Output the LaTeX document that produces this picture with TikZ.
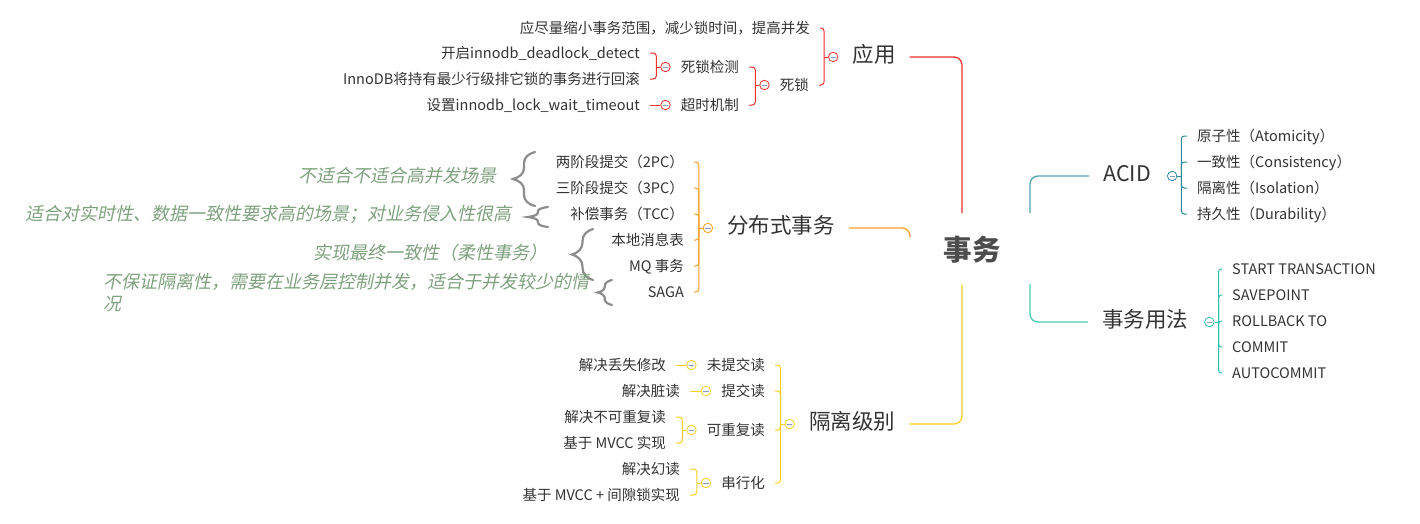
\documentclass[tikz,border=0pt]{standalone}
\usepackage{fontspec}
\setmainfont{Noto Sans CJK SC}
\newfontfamily\notefont[FakeSlant=0.2]{Noto Sans CJK SC}
\usetikzlibrary{positioning,calc,decorations.pathreplacing}
\definecolor{ink}{HTML}{333333}
\definecolor{rootink}{HTML}{4D4D4D}
\definecolor{appred}{HTML}{F0302A}
\definecolor{distorange}{HTML}{F7A024}
\definecolor{isoyellow}{HTML}{F5D020}
\definecolor{acidteal}{HTML}{2B8A9E}
\definecolor{useteal}{HTML}{2CC0B0}
\definecolor{knobmark}{HTML}{8A9BC0}
\definecolor{noteink}{HTML}{7EA07E}
\definecolor{bracegray}{HTML}{8C8C8C}
\tikzset{
  every node/.style={text=ink},
  leaf/.style={font=\fontsize{14.5}{17}\selectfont,inner xsep=10pt,inner ysep=1pt,text height=1.05em,text depth=0em},
  branch/.style={font=\fontsize{21.5}{24}\selectfont,inner xsep=14pt,inner ysep=2pt,text height=1.05em,text depth=0em},
  rootnode/.style={font=\fontsize{28.5}{32}\selectfont\bfseries,text=rootink,inner sep=0pt},
  knob/.style={circle,draw=#1,fill=white,line width=0.8pt,minimum size=9.5pt,inner sep=0pt,
    path picture={\draw[draw=knobmark,line width=0.9pt] ([xshift=-2.6pt]path picture bounding box.center) -- ([xshift=2.6pt]path picture bounding box.center);}},
  trunk/.style={draw=#1,line width=1.3pt,rounded corners=8pt},
  twig/.style={draw=#1,line width=1pt,rounded corners=3pt},
  note/.style={font=\notefont\fontsize{18}{22}\selectfont,text=noteink,inner sep=0pt,align=left},
  curly/.style 2 args={draw=bracegray,line width=2.2pt,line cap=round,decorate,
    decoration={brace,amplitude=#1,transform={yscale=#2}}},
}

\begin{document}
\begin{tikzpicture}[x=1pt,y=-1pt]
  \useasboundingbox (0,0) rectangle (1420,523);
  % centre and main branches
  \node[rootnode] (root) at (972,250) {事务};
  \node[branch] (app) at (874,57) {应用};
  \node[branch] (dist) at (781,228) {分布式事务};
  \node[branch] (iso) at (852,424) {隔离级别};
  \node[branch] (acid) at (1127,176) {ACID};
  \node[branch] (usage) at (1145,322) {事务用法};
  \node[knob=appred,left=0pt of app] (appK) {};
  \node[knob=distorange,left=0pt of dist] (distK) {};
  \node[knob=isoyellow,left=0pt of iso] (isoK) {};
  \node[knob=acidteal,right=2pt of acid] (acidK) {};
  \node[knob=useteal,right=2pt of usage] (usageK) {};
  \coordinate (rootTL) at ($(root)+(-10,-37)$);
  \coordinate (rootBL) at ($(root)+(-10,35)$);
  \coordinate (rootTR) at ($(root)+(58,-37)$);
  \coordinate (rootBR) at ($(root)+(58,34)$);
  \coordinate (rootDL) at ($(root)+(-62,-13)$);
  \draw[trunk=appred] (rootTL) |- (app.east);
  \draw[trunk=distorange] (dist.east) -| (rootDL);
  \draw[trunk=isoyellow] (rootBL) |- (iso.east);
  \draw[trunk=acidteal!80] (rootTR) |- (acid.west);
  \draw[trunk=useteal!85] (rootBR) |- (usage.west);

  % 应用
  \node[leaf,anchor=east] (app1) at (820,28) {应尽量缩小事务范围，减少锁时间，提高并发};
  \node[leaf,anchor=east] (lock) at (819,85) {死锁};
  \node[knob=appred,left=0pt of lock] (lockK) {};
  \node[leaf,anchor=east] (detect) at (749,67) {死锁检测};
  \node[leaf,anchor=east] (timeout) at (749,105) {超时机制};
  \node[knob=appred,left=0pt of detect] (detectK) {};
  \node[knob=appred,left=0pt of timeout] (timeoutK) {};
  \node[leaf,anchor=east] (detect1) at (650,53) {开启innodb\_deadlock\_detect};
  \node[leaf,anchor=east] (detect2) at (650,79) {InnoDB将持有最少行级排它锁的事务进行回滚};
  \node[leaf,anchor=east] (timeout1) at (650,105) {设置innodb\_lock\_wait\_timeout};
  \draw[twig=appred] (appK.west) -- ++(-4,0) coordinate (appJ);
  \foreach \n in {app1,lock} \draw[twig=appred] (appJ) |- (\n.east);
  \draw[twig=appred] (lockK.west) -- ++(-4,0) coordinate (lockJ);
  \foreach \n in {detect,timeout} \draw[twig=appred] (lockJ) |- (\n.east);
  \draw[twig=appred] (detectK.west) -- ++(-4,0) coordinate (detectJ);
  \foreach \n in {detect1,detect2} \draw[twig=appred] (detectJ) |- (\n.east);
  \draw[twig=appred] (timeoutK.west) -- (timeout1.east);

  % 分布式事务
  \node[leaf,anchor=east] (tpc) at (694,162) {两阶段提交（2PC）};
  \node[leaf,anchor=east] (thpc) at (694,188) {三阶段提交（3PC）};
  \node[leaf,anchor=east] (tcc) at (694,214) {补偿事务（TCC）};
  \node[leaf,anchor=east] (localmsg) at (694,240) {本地消息表};
  \node[leaf,anchor=east] (mq) at (694,266) {MQ 事务};
  \node[leaf,anchor=east] (saga) at (694,292) {SAGA};
  \draw[twig=distorange] (distK.west) -- ++(-4,0) coordinate (distJ);
  \foreach \n in {tpc,thpc,tcc,localmsg,mq,saga} \draw[twig=distorange] (distJ) |- (\n.east);
  \draw[curly={11}{2}] (535,206) -- (535,152);
  \draw[curly={4.5}{4.5}] (548,227) -- (548,207);
  \draw[curly={12}{1.75}] (593,280) -- (593,229);
  \draw[curly={6}{2.4}] (612,305) -- (612,280);
  \node[note,anchor=east] (note1) at (497,176) {不适合不适合高并发场景};
  \node[note,anchor=east] (note2) at (512,214) {适合对实时性、数据一致性要求高的场景；对业务侵入性很高};
  \node[note,anchor=east] (note3) at (548,253) {实现最终一致性（柔性事务）};
  \node[note,anchor=west] (note4) at (103,293) {不保证隔离性，需要在业务层控制并发，适合于并发较少的情\\况};

  % 隔离级别
  \node[leaf,anchor=east] (ru) at (775,365) {未提交读};
  \node[leaf,anchor=east] (rc) at (775,391) {提交读};
  \node[leaf,anchor=east] (rr) at (775,430) {可重复读};
  \node[leaf,anchor=east] (ser) at (775,483) {串行化};
  \draw[twig=isoyellow] (isoK.west) -- ++(-4,0) coordinate (isoJ);
  \foreach \n in {ru,rc,rr,ser} \draw[twig=isoyellow] (isoJ) |- (\n.east);
  \foreach \n in {ru,rc,rr,ser} \node[knob=isoyellow,left=0pt of \n] (\n K) {};
  \node[leaf,anchor=east] (ru1) at (676,365) {解决丢失修改};
  \node[leaf,anchor=east] (rc1) at (690,391) {解决脏读};
  \node[leaf,anchor=east] (rr1) at (676,417) {解决不可重复读};
  \node[leaf,anchor=east] (rr2) at (676,443) {基于 MVCC 实现};
  \node[leaf,anchor=east] (ser1) at (690,469) {解决幻读};
  \node[leaf,anchor=east] (ser2) at (690,495) {基于 MVCC + 间隙锁实现};
  \draw[twig=isoyellow] (ruK.west) -- (ru1.east);
  \draw[twig=isoyellow] (rcK.west) -- (rc1.east);
  \draw[twig=isoyellow] (rrK.west) -- ++(-4,0) coordinate (rrJ);
  \foreach \n in {rr1,rr2} \draw[twig=isoyellow] (rrJ) |- (\n.east);
  \draw[twig=isoyellow] (serK.west) -- ++(-4,0) coordinate (serJ);
  \foreach \n in {ser1,ser2} \draw[twig=isoyellow] (serJ) |- (\n.east);

  % ACID
  \node[leaf,anchor=west] (atom) at (1187,136) {原子性（Atomicity）};
  \node[leaf,anchor=west] (cons) at (1187,162) {一致性（Consistency）};
  \node[leaf,anchor=west] (isol) at (1187,188) {隔离性（Isolation）};
  \node[leaf,anchor=west] (dura) at (1187,214) {持久性（Durability）};
  \draw[twig=acidteal] (acidK.east) -- ++(4,0) coordinate (acidJ);
  \foreach \n in {atom,cons,isol,dura} \draw[twig=acidteal] (acidJ) |- (\n.west);

  % 事务用法
  \node[leaf,anchor=west] (start) at (1222,269) {START TRANSACTION};
  \node[leaf,anchor=west] (savept) at (1222,295) {SAVEPOINT};
  \node[leaf,anchor=west] (rollback) at (1222,321) {ROLLBACK TO};
  \node[leaf,anchor=west] (commit) at (1222,347) {COMMIT};
  \node[leaf,anchor=west] (autocommit) at (1222,373) {AUTOCOMMIT};
  \draw[twig=useteal] (usageK.east) -- ++(4,0) coordinate (usageJ);
  \foreach \n in {start,savept,rollback,commit,autocommit} \draw[twig=useteal] (usageJ) |- (\n.west);
\end{tikzpicture}
\end{document}
